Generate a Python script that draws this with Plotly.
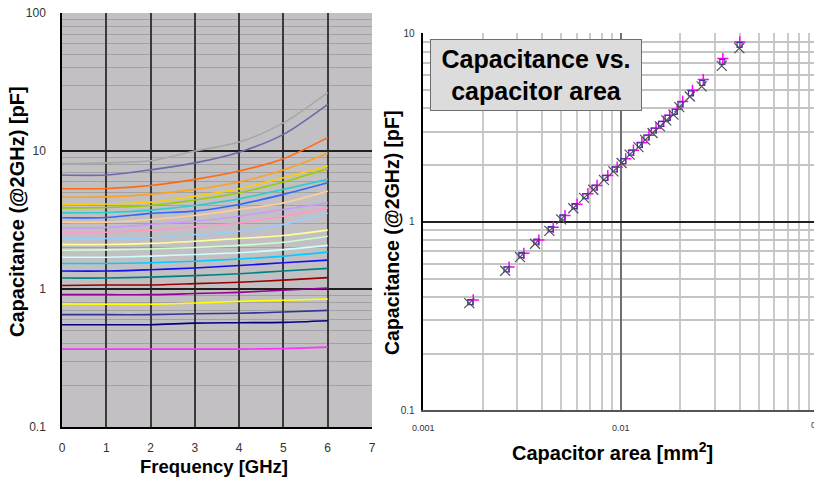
import plotly.graph_objects as go

W, H = 814, 478
FONT = "Arial, Liberation Sans, sans-serif"

# ---- left panel: capacitance vs. frequency -----------------------------
freq_ghz = [0, 1, 2, 3, 4, 5, 6]

cap_gray = [8.1, 8.2, 8.5, 10.0, 11.6, 16.0, 26.5]
cap_slate = [6.7, 6.7, 7.3, 8.2, 9.8, 13.2, 21.8]
cap_orange = [5.33, 5.35, 5.63, 6.23, 7.16, 8.8, 12.5]
cap_lt_orange = [4.63, 4.65, 4.85, 5.27, 5.96, 7.28, 9.62]
cap_gold = [4.10, 4.13, 4.26, 4.71, 5.33, 6.40, 7.78]
cap_lime = [3.87, 3.90, 4.03, 4.41, 4.98, 5.96, 7.44]
cap_turquoise = [3.56, 3.58, 3.73, 4.03, 4.50, 5.27, 6.23]
cap_royal = [3.28, 3.30, 3.53, 3.67, 4.10, 4.85, 5.89]
cap_peach = [3.05, 3.05, 3.19, 3.41, 3.77, 4.21, 5.12]
cap_lavender = [2.77, 2.79, 2.94, 3.10, 3.37, 3.77, 4.21]
cap_pink = [2.58, 2.58, 2.67, 2.82, 3.01, 3.37, 3.87]
cap_lt_blue = [2.32, 2.32, 2.35, 2.48, 2.62, 2.94, 3.56]
cap_pale_yellow = [2.10, 2.10, 2.14, 2.22, 2.32, 2.44, 2.67]
cap_pale_green = [1.91, 1.92, 1.95, 2.00, 2.07, 2.18, 2.41]
cap_pale_cyan = [1.70, 1.70, 1.73, 1.78, 1.83, 1.93, 2.07]
cap_sky = [1.53, 1.53, 1.55, 1.59, 1.65, 1.73, 1.85]
cap_blue = [1.35, 1.35, 1.38, 1.42, 1.48, 1.55, 1.62]
cap_teal = [1.20, 1.20, 1.22, 1.25, 1.29, 1.35, 1.41]
cap_dark_red = [1.06, 1.07, 1.07, 1.094, 1.12, 1.16, 1.21]
cap_purple = [0.91, 0.91, 0.91, 0.927, 0.946, 0.98, 1.017]
cap_yellow = [0.778, 0.775, 0.775, 0.791, 0.814, 0.828, 0.846]
cap_indigo = [0.652, 0.652, 0.652, 0.662, 0.667, 0.681, 0.700]
cap_navy = [0.551, 0.551, 0.551, 0.566, 0.570, 0.573, 0.589]
cap_magenta = [0.367, 0.367, 0.367, 0.367, 0.367, 0.370, 0.379]

freq_ticks = [0, 1, 2, 3, 4, 5, 6, 7]
cap_tick_vals = [0.1, 1, 10, 100]
cap_tick_text = ["0.1", "1", "10", "100"]

# ---- right panel: capacitance vs. capacitor area -----------------------
area_x = [0.00171, 0.00260, 0.00309, 0.00368, 0.00435, 0.00499, 0.00575, 0.00652,
          0.00726, 0.00822, 0.00918, 0.0101, 0.0111, 0.0123, 0.0133, 0.0145,
          0.0158, 0.0170, 0.0185, 0.0198, 0.0224, 0.0257, 0.0325, 0.0399]
cap_x = [0.37, 0.55, 0.65, 0.765, 0.895, 1.03, 1.18, 1.34, 1.48, 1.67, 1.85, 2.05,
         2.27, 2.49, 2.72, 2.96, 3.21, 3.45, 3.70, 4.06, 4.62, 5.23, 6.72, 8.35]

area_sq = [0.00173, 0.00264, 0.00314, 0.00374, 0.00442, 0.00507, 0.00584, 0.00662,
           0.00737, 0.00835, 0.00932, 0.0103, 0.0113, 0.0125, 0.0135, 0.0147,
           0.0160, 0.0173, 0.0188, 0.0201, 0.0227, 0.0259, 0.0327, 0.0400]
cap_sq = [0.375, 0.56, 0.665, 0.785, 0.915, 1.055, 1.21, 1.37, 1.52, 1.71, 1.90, 2.10,
          2.33, 2.56, 2.80, 3.05, 3.31, 3.56, 3.83, 4.20, 4.80, 5.45, 7.05, 8.69]

area_plus = [0.00179, 0.00272, 0.00323, 0.00385, 0.00455, 0.00522, 0.00601, 0.00682,
             0.00759, 0.00860, 0.00960, 0.0106, 0.0116, 0.0128, 0.0139, 0.0151,
             0.0165, 0.0177, 0.0193, 0.0206, 0.0231, 0.0262, 0.0329, 0.0401]
cap_plus = [0.385, 0.575, 0.68, 0.80, 0.935, 1.08, 1.24, 1.41, 1.56, 1.76, 1.95, 2.16,
            2.40, 2.63, 2.88, 3.14, 3.41, 3.67, 3.95, 4.35, 4.98, 5.68, 7.35, 9.0]

area_tick_vals = [0.001, 0.01]
area_tick_text = ["0.001", "0.01"]
cap2_tick_vals = [0.1, 1, 10]
cap2_tick_text = ["0.1", "1", "10"]

# ---- figure ------------------------------------------------------------
curves = [
    (cap_gray, "#A8A8A8"), (cap_slate, "#6A6AAE"), (cap_orange, "#FF6A10"),
    (cap_lt_orange, "#FFA020"), (cap_gold, "#FFCC00"), (cap_lime, "#99CC00"),
    (cap_turquoise, "#33CCCC"), (cap_royal, "#3366FF"), (cap_peach, "#FFCC99"),
    (cap_lavender, "#CC99FF"), (cap_pink, "#FF99CC"), (cap_lt_blue, "#99CCFF"),
    (cap_pale_yellow, "#FFFF99"), (cap_pale_green, "#CCFFCC"), (cap_pale_cyan, "#CCFFFF"),
    (cap_sky, "#00CCFF"), (cap_blue, "#1010F0"), (cap_teal, "#008080"),
    (cap_dark_red, "#990000"), (cap_purple, "#990099"), (cap_yellow, "#FFFF00"),
    (cap_indigo, "#333399"), (cap_navy, "#000080"), (cap_magenta, "#FF33FF"),
]

fig = go.Figure()
for vals, col in curves:
    fig.add_trace(go.Scatter(
        x=freq_ghz, y=vals, mode="lines", xaxis="x", yaxis="y",
        line=dict(color=col, width=1.6, shape="spline", smoothing=0.8),
        showlegend=False, hoverinfo="skip"))

# open / thin symbols take their stroke colour from marker.color
fig.add_trace(go.Scatter(
    x=area_plus, y=cap_plus, mode="markers", xaxis="x2", yaxis="y2",
    marker=dict(symbol="cross-thin-open", size=8, color="#FF00FF", line=dict(width=1.5)),
    showlegend=False))
fig.add_trace(go.Scatter(
    x=area_sq, y=cap_sq, mode="markers", xaxis="x2", yaxis="y2",
    marker=dict(symbol="square-open", size=5, color="#3838A8", line=dict(width=1.2)),
    showlegend=False))
fig.add_trace(go.Scatter(
    x=area_x, y=cap_x, mode="markers", xaxis="x2", yaxis="y2",
    marker=dict(symbol="x-thin-open", size=10, color="#505050", line=dict(width=1.2)),
    showlegend=False))

def px(x):
    return x / W

def py(y):
    return 1 - y / H

left_dom_x = [px(62), px(372)]
left_dom_y = [py(427), py(13)]
right_dom_x = [px(423.3), 1.0]
right_dom_y = [py(410.3), py(33.3)]

fig.update_layout(
    template="none",
    width=W, height=H,
    margin=dict(l=0, r=0, t=0, b=0, autoexpand=False),
    paper_bgcolor="white", plot_bgcolor="white",
    font=dict(family=FONT, color="#000"),
    showlegend=False,
    xaxis=dict(
        domain=left_dom_x, anchor="y", range=[0, 7], tickvals=freq_ticks,
        showgrid=True, gridcolor="#3A3A3A", gridwidth=1.6, zeroline=False,
        showline=True, linecolor="#000", linewidth=1.5, automargin=False,
        ticks="", ticklabelstandoff=9,
        tickfont=dict(size=12, color="#333"),
    ),
    yaxis=dict(
        domain=left_dom_y, anchor="x", type="log", range=[-1, 2],
        tickvals=cap_tick_vals, ticktext=cap_tick_text,
        showgrid=True, gridcolor="#202020", gridwidth=1.5, zeroline=False,
        showline=True, linecolor="#000", linewidth=1.5, automargin=False,
        ticks="", ticklabelstandoff=12,
        tickfont=dict(size=12, color="#333"),
        minor=dict(dtick="D1", showgrid=True, gridcolor="#A2A2A2", gridwidth=1.2),
    ),
    xaxis2=dict(
        domain=right_dom_x, anchor="y2", type="log", range=[-3, -1.021],
        tickvals=area_tick_vals, ticktext=area_tick_text,
        showgrid=True, gridcolor="#707070", gridwidth=1.5, zeroline=False,
        showline=True, linecolor="#555", linewidth=1.5, automargin=False,
        ticks="", ticklabelstandoff=8,
        tickfont=dict(size=9, color="#333"),
        minor=dict(dtick="D1", showgrid=True, gridcolor="#CBCBCB", gridwidth=1.5),
    ),
    yaxis2=dict(
        domain=right_dom_y, anchor="x2", type="log", range=[-1, 1],
        tickvals=cap2_tick_vals, ticktext=cap2_tick_text,
        showgrid=True, gridcolor="#202020", gridwidth=1.5, zeroline=False,
        showline=True, linecolor="#000", linewidth=1.5, automargin=False,
        ticks="", ticklabelstandoff=5,
        tickfont=dict(size=10, color="#333"),
        minor=dict(dtick="D1", showgrid=True, gridcolor="#C4C4C4", gridwidth=1.5),
    ),
    shapes=[
        dict(type="rect", xref="x domain", yref="y domain", x0=0, x1=1, y0=0, y1=1,
             fillcolor="#C2C0C3", line=dict(width=0), layer="below"),
    ],
    annotations=[
        dict(text="<b>Capacitance (@2GHz) [pF]</b>", textangle=-90, x=px(17), y=py(212),
             xref="paper", yref="paper", showarrow=False,
             font=dict(size=20, family=FONT, color="#000"), xanchor="center", yanchor="middle"),
        dict(text="<b>Frequency [GHz]</b>", x=px(214), y=py(466),
             xref="paper", yref="paper", showarrow=False,
             font=dict(size=18.5, family=FONT, color="#000"), xanchor="center", yanchor="middle"),
        dict(text="<b>Capacitance (@2GHz) [pF]</b>", textangle=-90, x=px(392), y=py(233),
             xref="paper", yref="paper", showarrow=False,
             font=dict(size=19.5, family=FONT, color="#000"), xanchor="center", yanchor="middle"),
        dict(text="<b>Capacitor area [mm<sup>2</sup>]</b>", x=px(612), y=py(451),
             xref="paper", yref="paper", showarrow=False,
             font=dict(size=20, family=FONT, color="#000"), xanchor="center", yanchor="middle"),
        dict(text="0.1", x=px(809), y=py(425), xref="paper", yref="paper", showarrow=False,
             font=dict(size=9, family=FONT, color="#333"), xanchor="left", yanchor="middle"),
        dict(text="<b>Capacitance vs.<br>capacitor area</b>", x=px(536), y=py(75),
             xref="paper", yref="paper", showarrow=False,
             font=dict(size=25, family=FONT, color="#000"),
             bgcolor="#DCDCDC", bordercolor="#6E6E6E", borderwidth=1, borderpad=2,
             width=206, height=66, xanchor="center", yanchor="middle"),
    ],
)

fig.write_html("out.html")
